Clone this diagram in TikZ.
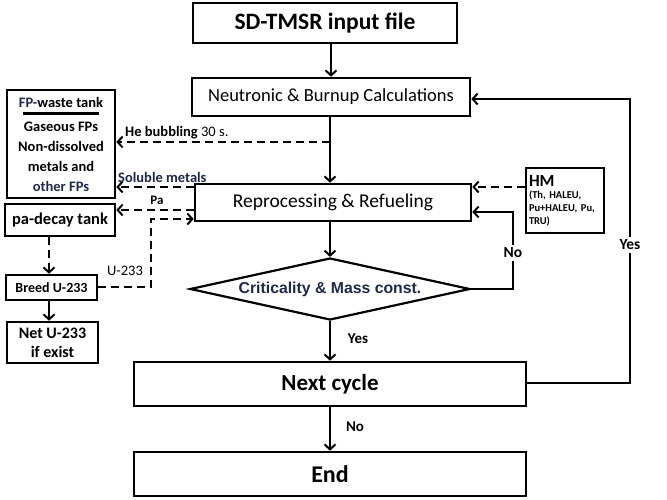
\documentclass[tikz,border=0pt]{standalone}
\usepackage{fontspec}
\setmainfont{Carlito}
\newfontfamily\arialfont{Liberation Sans}
\usetikzlibrary{arrows.meta,shapes.geometric}
\definecolor{navy}{RGB}{32,40,72}

\begin{document}
\begin{tikzpicture}[x=1pt, y=-1pt, >={Straight Barb[length=5pt,width=11pt]},
    box/.style={draw, line width=2.6pt, rectangle, inner sep=0pt, align=center},
    link/.style={line width=2pt, ->},
    dlink/.style={line width=2pt, ->, dash pattern=on 8pt off 5pt},
    lbl/.style={font=\bfseries\fontsize{14.5}{16}\selectfont, inner sep=1pt}]
        \useasboundingbox (0,0) rectangle (667,499);
        % main chain
        \node[box, minimum width=264pt, minimum height=40pt, font=\bfseries\fontsize{23.5}{26}\selectfont] (input) at (325,23) {SD-TMSR input file};
        \node[box, minimum width=278pt, minimum height=38pt, font=\fontsize{18.5}{20}\selectfont] (neut) at (331,97) {Neutronic \& Burnup Calculations};
        \node[box, minimum width=276pt, minimum height=37pt, font=\fontsize{19.5}{20}\selectfont] (repro) at (333,202.5) {Reprocessing \& Refueling};
        \node[draw, diamond, aspect=4.5, line width=2.2pt, inner sep=0pt, minimum width=280pt, minimum height=62pt, font=\arialfont\bfseries\fontsize{15.8}{18}\selectfont, text=navy] (crit) at (330,289) {Criticality \& Mass const.};
        \node[box, minimum width=392pt, minimum height=44pt, font=\bfseries\fontsize{23}{26}\selectfont] (next) at (330,384) {Next cycle};
        \node[box, minimum width=392pt, minimum height=44pt, font=\bfseries\fontsize{24}{26}\selectfont] (endb) at (330,474) {End};
        % side tanks
        \node[box, minimum width=108pt, minimum height=108pt, font=\bfseries\fontsize{14.5}{20}\selectfont] (fp) at (61,144)
            {\textcolor{navy}{FP-}waste tank\\[-12pt]\rule{76pt}{2.6pt}\\[-4pt]Gaseous FPs\\Non-dissolved\\metals and\\\textcolor{navy}{other FPs}};
        \node[box, minimum width=110pt, minimum height=32pt, font=\bfseries\fontsize{16.5}{18}\selectfont] (pa) at (60,220) {pa-decay tank};
        \node[box, minimum width=91pt, minimum height=25pt, font=\bfseries\fontsize{14}{16}\selectfont] (breed) at (51.5,287.5) {Breed U-233};
        \node[box, minimum width=91pt, minimum height=41pt, font=\bfseries\fontsize{16}{19}\selectfont] (net) at (52.5,342.5) {Net U-233\\if exist};
        \node[box, minimum width=78pt, minimum height=65pt, align=left, text width=72pt, font=\bfseries\fontsize{10.5}{13}\selectfont] (hm) at (565,200.5)
            {{\fontsize{17}{17}\selectfont HM}\\[-1pt](Th, HALEU,\\Pu+HALEU, Pu,\\TRU)};
        % bend points
        \coordinate (hb) at (330,142);
        \coordinate (sm) at (repro.west |- 0,187);
        \coordinate (pp) at (repro.west |- 0,210);
        \coordinate (ua) at (151,287);
        \coordinate (ub) at (151,219);
        \coordinate (nr) at (513,289);
        \coordinate (nq) at (513,212);
        \coordinate (yr) at (630,383);
        \coordinate (yq) at (630,99);
        % connectors
        \draw[link] (input.south -| 331,0) -- (neut.north -| 331,0);
        \draw[link] (neut.south -| hb) -- (repro.north -| hb);
        \draw[link] (repro.south -| crit) -- (crit.north);
        \draw[link] (crit.south) -- (next.north -| crit);
        \draw[link] (next.south -| crit) -- (endb.north -| crit);
        \draw[link] (crit.east) -- (nr) -- (nq) -- (nq -| repro.east);
        \draw[link] (next.east |- yr) -- (yr) -- (yq) -- (yq -| neut.east);
        \draw[dlink] (hb) -- (hb -| fp.east);
        \draw[dlink] (sm) -- (sm -| fp.east);
        \draw[dlink] (pp) -- (pp -| pa.east);
        \draw[dlink] (breed.east |- ua) -- (ua) -- (ub) -- (ub -| repro.west);
        \draw[dlink] (hm.west |- 0,187) -- (repro.east |- 0,187);
        \draw[dlink] (pa.south -| 49,0) -- (breed.north -| 49,0);
        \draw[link] (breed.south -| 49,0) -- (net.north -| 49,0);
        % labels
        \node[lbl, anchor=south west] (lhb) at (124,140) {He bubbling {\mdseries\fontsize{14.5}{16}\selectfont 30 s.}};
        \node[lbl, anchor=south west, text=navy] (lsm) at (117,184) {Soluble metals};
        \node[lbl, font=\bfseries\fontsize{13}{14}\selectfont] (lpa) at (157,200) {Pa};
        \node[lbl, font=\fontsize{14.5}{16}\selectfont] (lu) at (125,271) {U-233};
        \node[lbl, fill=white, font=\bfseries\fontsize{15.5}{17}\selectfont, inner sep=3pt] (lno) at (513,253) {No};
        \node[lbl, fill=white, font=\bfseries\fontsize{15.5}{17}\selectfont, inner sep=3pt] (lyes) at (630,245) {Yes};
        \node[lbl, font=\bfseries\fontsize{15}{17}\selectfont] (lyes2) at (358,339) {Yes};
        \node[lbl, font=\bfseries\fontsize{15}{17}\selectfont] (lno2) at (355,427) {No};
\end{tikzpicture}
\end{document}
